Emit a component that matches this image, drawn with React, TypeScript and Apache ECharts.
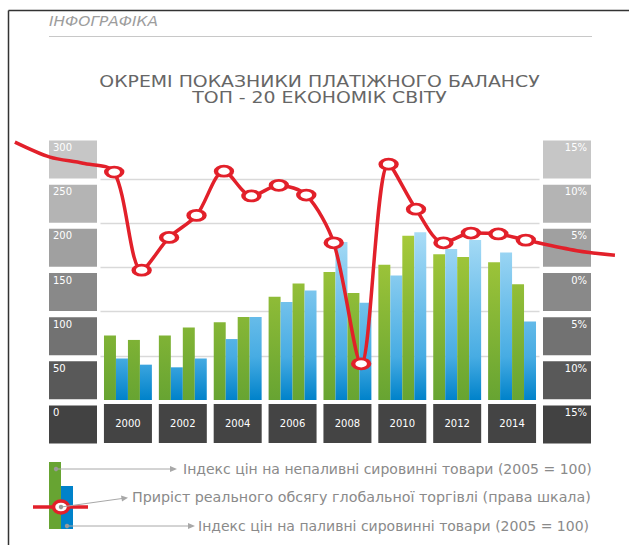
import React, { useEffect, useRef } from 'react';
import * as echarts from 'echarts';

// ---------- data ----------
const years = [2000, 2001, 2002, 2003, 2004, 2005, 2006, 2007, 2008, 2009, 2010, 2011, 2012, 2013, 2014, 2015];
const groupLabels = ['2000', '2002', '2004', '2006', '2008', '2010', '2012', '2014'];
// Індекс цін на непаливні сировинні товари (2005 = 100) — green
const nonFuelIndex = [73, 68, 73, 82, 88, 94, 117, 132, 145, 121, 153, 186, 165, 162, 156, 131];
// Індекс цін на паливні сировинні товари (2005 = 100) — blue
const fuelIndex = [47, 40, 37, 47, 69, 94, 111, 124, 179, 110, 141, 190, 171, 181, 167, 89];
// Приріст реального обсягу глобальної торгівлі, % (права шкала) — red
const tradeGrowth = [10.8, -0.3, 3.4, 5.9, 10.9, 8.1, 9.3, 8.2, 2.8, -10.9, 11.7, 6.6, 2.8, 3.9, 3.8, 3.1];
// decorative tails of the red curve (position in year-index units, value in %)
const leadInX = [-3.62, -2.34, -1.14];
const leadInY = [14.2, 12.5, 11.8];
const leadOutX = [16.86, 18.25];
const leadOutY = [1.9, 1.4];
// axis tick labels (bottom to top)
const leftTicks = [0, 50, 100, 150, 200, 250, 300];
const rightTickLabels = ['15%', '10%', '5%', '0%', '5%', '10%', '15%'];
const boxColors = ['#424242', '#595959', '#727272', '#898989', '#a0a0a0', '#b4b4b4', '#c6c6c6'];

const FONT = "'DejaVu Sans', sans-serif";
const RED = '#e2202a';
const ELLIPSE = 'path://M0,5a10,5 0 1,0 20,0a10,5 0 1,0 -20,0z';

// layout
const W = 629;
const PLOT_LEFT = 100.5;
const PLOT_WIDTH = 439;
const PLOT_TOP = 135;
const PLOT_BOTTOM = 145;

export default function App() {
  const ref = useRef<HTMLDivElement>(null);

  useEffect(() => {
    document.body.style.margin = '0';
    const chart = echarts.init(ref.current!, null, { renderer: 'svg' });

    const greenGrad = () =>
      new echarts.graphic.LinearGradient(0, 400, 0, 220, [
        { offset: 0, color: '#67a432' },
        { offset: 1, color: '#accd3b' },
      ], true);
    const blueGrad = () =>
      new echarts.graphic.LinearGradient(0, 400, 0, 220, [
        { offset: 0, color: '#0082ca' },
        { offset: 0.24, color: '#47ace3' },
        { offset: 1, color: '#b3e1f8' },
      ], true);

    const even = (a: number[]) => a.filter((_, i) => i % 2 === 0);
    const odd = (a: number[]) => a.filter((_, i) => i % 2 === 1);

    const makeRich = (align: string) => {
      const r: Record<string, any> = {};
      boxColors.forEach((c, i) => {
        r['b' + i] = {
          backgroundColor: c,
          width: 40,
          height: 14,
          padding: [0, 4, 24, 4],
          color: '#ffffff',
          fontSize: 10,
          fontFamily: FONT,
          align,
        };
      });
      return r;
    };

    const barBase = {
      type: 'bar',
      xAxisIndex: 0,
      yAxisIndex: 0,
      barGap: '0%',
      barCategoryGap: '12.7%',
    };

    // the red curve lives on a full-width grid whose year scale matches the bar grid
    const yearW = PLOT_WIDTH / years.length;
    const lineXMin = -0.5 - PLOT_LEFT / yearW;
    const lineXMax = years.length - 0.5 + (W - PLOT_LEFT - PLOT_WIDTH) / yearW;

    const lineData: any[] = [
      ...leadInX.map((x, i) => ({ value: [x, leadInY[i]], symbol: 'none' })),
      ...years.map((_, i) => [i, tradeGrowth[i]]),
      ...leadOutX.map((x, i) => ({ value: [x, leadOutY[i]], symbol: 'none' })),
    ];

    const legendTextStyle = { fill: '#8a8a8a', font: `14px ${FONT}`, verticalAlign: 'middle', align: 'left' };
    const grey = '#a8a8a8';

    chart.setOption({
      animation: false,
      backgroundColor: '#ffffff',
      grid: [
        { left: PLOT_LEFT, width: PLOT_WIDTH, top: PLOT_TOP, bottom: PLOT_BOTTOM, outerBoundsMode: 'none' },
        { left: 0, right: 0, top: PLOT_TOP, bottom: PLOT_BOTTOM, outerBoundsMode: 'none' },
      ],
      xAxis: [
        {
          type: 'category',
          gridIndex: 0,
          data: groupLabels,
          axisLine: { show: false },
          axisTick: { show: false },
          axisLabel: {
            interval: 0,
            margin: 4,
            verticalAlign: 'top',
            formatter: (v: string) => `{yr|${v}}`,
            rich: {
              yr: {
                width: 48,
                height: 39,
                backgroundColor: '#444444',
                color: '#ffffff',
                fontSize: 10,
                fontFamily: FONT,
                align: 'center',
              },
            },
          },
        },
        { type: 'value', gridIndex: 1, min: lineXMin, max: lineXMax, show: false },
      ],
      yAxis: [
        {
          type: 'value',
          gridIndex: 0,
          position: 'left',
          min: 0,
          max: 300,
          interval: 50,
          axisLine: { show: false },
          axisTick: { show: false },
          splitLine: { show: true, showMinLine: false, showMaxLine: false, lineStyle: { color: '#d9d9d9', width: 1.3 } },
          axisLabel: {
            margin: 3.5,
            verticalAlign: 'top',
            padding: [5.5, 0, 0, 0],
            formatter: (v: number) => `{b${leftTicks.indexOf(v)}|${v}}`,
            rich: makeRich('left'),
          },
        },
        {
          type: 'value',
          gridIndex: 0,
          position: 'right',
          min: -15,
          max: 15,
          interval: 5,
          axisLine: { show: false },
          axisTick: { show: false },
          splitLine: { show: false },
          axisLabel: {
            margin: 3.5,
            verticalAlign: 'top',
            padding: [5.5, 0, 0, 0],
            formatter: (v: number) => {
              const i = Math.round((v + 15) / 5);
              return `{b${i}|${rightTickLabels[i]}}`;
            },
            rich: makeRich('right'),
          },
        },
        { type: 'value', gridIndex: 1, min: -15, max: 15, show: false },
      ],
      series: [
        { ...barBase, name: 'nonFuelEven', data: even(nonFuelIndex), itemStyle: { color: greenGrad() } },
        { ...barBase, name: 'fuelEven', data: even(fuelIndex), itemStyle: { color: blueGrad() } },
        { ...barBase, name: 'nonFuelOdd', data: odd(nonFuelIndex), itemStyle: { color: greenGrad() } },
        { ...barBase, name: 'fuelOdd', data: odd(fuelIndex), itemStyle: { color: blueGrad() } },
        {
          type: 'line',
          name: 'trade',
          xAxisIndex: 1,
          yAxisIndex: 2,
          smooth: 0.3,
          z: 5,
          data: lineData,
          symbol: ELLIPSE,
          symbolKeepAspect: false,
          symbolSize: [16, 10],
          lineStyle: { color: RED, width: 3.5 },
          itemStyle: { color: '#ffffff', borderColor: RED, borderWidth: 3.5 },
        },
      ],
      graphic: [
        // frame
        { type: 'line', shape: { x1: 8.5, y1: 10.5, x2: 629, y2: 10.5 }, style: { stroke: '#333333', lineWidth: 1.5 } },
        { type: 'line', shape: { x1: 8.5, y1: 10.5, x2: 8.5, y2: 545 }, style: { stroke: '#333333', lineWidth: 1.5 } },
        // header
        { type: 'text', x: 49, y: 21, scaleX: 1.1, style: { text: 'ІНФОГРАФІКА', fill: '#9d9d9d', font: `italic 14px ${FONT}`, verticalAlign: 'middle', align: 'left' } },
        { type: 'line', shape: { x1: 49, y1: 36.5, x2: 592, y2: 36.5 }, style: { stroke: '#c8c8c8', lineWidth: 1 } },
        {
          type: 'text', x: 319.5, y: 89.5, scaleX: 1.18,
          style: {
            text: 'ОКРЕМІ ПОКАЗНИКИ ПЛАТІЖНОГО БАЛАНСУ\nТОП - 20 ЕКОНОМІК СВІТУ',
            fill: '#666666', font: `16px ${FONT}`, lineHeight: 16.5, verticalAlign: 'middle', align: 'center',
          },
        },
        // legend icon
        { type: 'rect', shape: { x: 49, y: 462, width: 12, height: 67 }, style: { fill: greenGrad() } },
        { type: 'rect', shape: { x: 61, y: 486, width: 12, height: 43 }, style: { fill: blueGrad() } },
        { type: 'line', shape: { x1: 33, y1: 507, x2: 88, y2: 507 }, style: { stroke: RED, lineWidth: 3.5 } },
        { type: 'ellipse', shape: { cx: 61, cy: 507, rx: 7.5, ry: 6 }, style: { fill: '#ffffff', stroke: RED, lineWidth: 3.5 } },
        // leaders
        { type: 'line', shape: { x1: 56, y1: 469, x2: 171, y2: 469 }, style: { stroke: grey, lineWidth: 1 } },
        { type: 'polygon', shape: { points: [[177, 469], [170, 466], [170, 472]] }, style: { fill: grey } },
        { type: 'line', shape: { x1: 61, y1: 507, x2: 122, y2: 498.5 }, style: { stroke: grey, lineWidth: 1 } },
        { type: 'polygon', shape: { points: [[128, 497.7], [121, 495.5], [122, 501.5]] }, style: { fill: grey } },
        { type: 'line', shape: { x1: 67, y1: 526, x2: 189, y2: 526 }, style: { stroke: grey, lineWidth: 1 } },
        { type: 'polygon', shape: { points: [[195, 526], [188, 523], [188, 529]] }, style: { fill: grey } },
        { type: 'circle', shape: { cx: 56, cy: 469, r: 2.2 }, style: { fill: '#9a9a9a' } },
        { type: 'circle', shape: { cx: 61, cy: 507, r: 2.2 }, style: { fill: '#9a9a9a' } },
        { type: 'circle', shape: { cx: 67, cy: 526, r: 2.2 }, style: { fill: '#9a9a9a' } },
        { type: 'text', x: 183, y: 469, style: { ...legendTextStyle, text: 'Індекс цін на непаливні сировинні товари (2005 = 100)' } },
        { type: 'text', x: 132, y: 497.5, scaleX: 1.02, style: { ...legendTextStyle, text: 'Приріст реального обсягу глобальної торгівлі (права шкала)' } },
        { type: 'text', x: 198, y: 526, style: { ...legendTextStyle, text: 'Індекс цін на паливні сировинні товари (2005 = 100)' } },
      ],
    });

    return () => chart.dispose();
  }, []);

  return <div ref={ref} style={{ width: 629, height: 545 }} />;
}
